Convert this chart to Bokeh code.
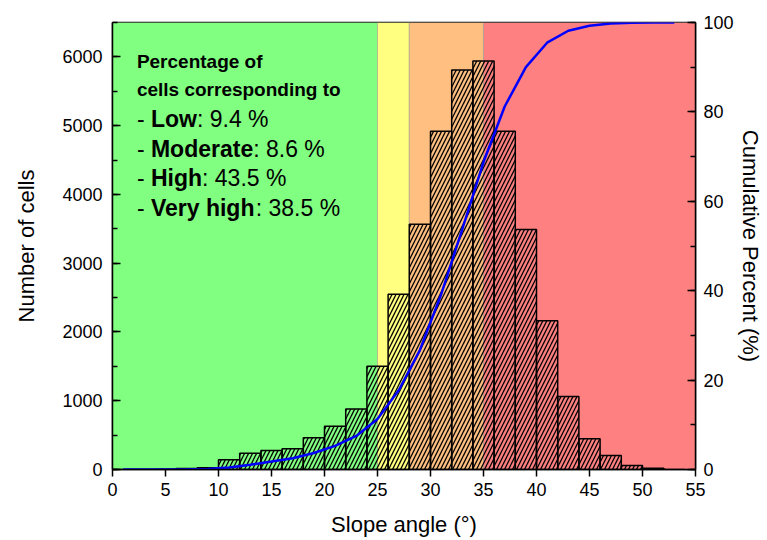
from bokeh.plotting import figure
from bokeh.models import (Range1d, LinearAxis, SingleIntervalTicker, Label)
from bokeh.embed import file_html
from bokeh.resources import INLINE

# ---- data ----
bin_left = [0, 2, 4, 6, 8, 10, 12, 14, 16, 18, 20, 22, 24, 26, 28, 30, 32, 34, 36, 38, 40, 42, 44, 46, 48, 50, 52]
bin_right = [2, 4, 6, 8, 10, 12, 14, 16, 18, 20, 22, 24, 26, 28, 30, 32, 34, 36, 38, 40, 42, 44, 46, 48, 50, 52, 54]
counts = [0, 0, 5, 15, 25, 141, 237, 277, 301, 461, 630, 878, 1500, 2547, 3566, 4920,
          5808, 5939, 4920, 3489, 2164, 1062, 447, 204, 58, 18, 0]

cum_x = [1, 3, 5, 7, 9, 11, 13, 15, 17, 19, 21, 23, 25, 27, 29, 31, 33, 35, 37, 39, 41, 43, 45, 47, 49, 51, 53]
cum_pct = [0, 0, 0.01, 0.05, 0.11, 0.47, 1.07, 1.77, 2.53, 3.69, 5.28, 7.50, 11.28, 17.71, 26.72,
           39.14, 53.80, 68.79, 81.21, 90.02, 95.48, 98.16, 99.29, 99.80, 99.95, 100, 100]

band_left = [0, 25, 28, 35]
band_right = [25, 28, 35, 55]
band_colors = ["#80FF80", "#FFFF80", "#FFBF80", "#FF8080"]

classes = ["Low", "Moderate", "High", "Very high"]
class_pct = ["9.4", "8.6", "43.5", "38.5"]

FONT = "Liberation Sans"

p = figure(width=767, height=540, output_backend="svg", toolbar_location=None,
           x_range=Range1d(0, 55), y_range=Range1d(0, 6500),
           min_border_left=112, min_border_right=72, min_border_top=22, min_border_bottom=71,
           background_fill_color="white", border_fill_color="white")
p.extra_y_ranges = {"cum": Range1d(0, 100)}
p.xgrid.visible = False
p.ygrid.visible = False
p.outline_line_color = "black"
p.outline_line_width = 1.5

# background bands
p.quad(left=band_left, right=band_right, bottom=0, top=6500, fill_color=band_colors,
       line_color="#a0a090", line_alpha=0.6, line_width=1)

# histogram bars (hatched, no fill)
p.quad(left=bin_left, right=bin_right, bottom=0, top=counts, fill_alpha=0,
       line_color="black", line_width=1.5, hatch_pattern="/", hatch_color="black",
       hatch_scale=8, hatch_weight=1.3)

# cumulative line
p.line(cum_x, cum_pct, y_range_name="cum", line_color="#0000FF", line_width=2.5)

# axes styling
def style_axis(ax, label):
    ax.axis_label = label
    ax.axis_label_text_font = FONT
    ax.axis_label_text_font_size = "22px"
    ax.axis_label_text_font_style = "normal"
    ax.axis_label_text_color = "black"
    ax.major_label_text_font = FONT
    ax.major_label_text_font_size = "18px"
    ax.major_label_text_color = "black"
    ax.axis_line_color = "black"
    ax.axis_line_width = 1.5
    ax.major_tick_line_color = "black"
    ax.major_tick_line_width = 1.5
    ax.minor_tick_line_color = "black"
    ax.minor_tick_line_width = 1.5

xa = p.xaxis[0]
xa.ticker = SingleIntervalTicker(interval=5, num_minor_ticks=0)
style_axis(xa, "Slope angle (°)")
xa.major_tick_out = 7
xa.major_tick_in = 0
xa.major_label_standoff = 6
xa.axis_label_standoff = 13

ya = p.yaxis[0]
ya.ticker = SingleIntervalTicker(interval=1000, num_minor_ticks=2)
style_axis(ya, "Number of cells")
ya.major_tick_out = 0
ya.major_tick_in = 8
ya.minor_tick_out = 0
ya.minor_tick_in = 5
ya.major_label_standoff = 10
ya.axis_label_standoff = 20

ra = LinearAxis(y_range_name="cum", ticker=SingleIntervalTicker(interval=20, num_minor_ticks=2))
style_axis(ra, "Cumulative Percent (%)")
ra.major_tick_out = 0
ra.major_tick_in = 8
ra.minor_tick_out = 0
ra.minor_tick_in = 5
ra.major_label_standoff = 8
ra.axis_label_standoff = 1
p.add_layout(ra, "right")

# annotation text
x0 = 2.3
def lbl(text, y, xoff=0, size="19px", style="bold"):
    p.add_layout(Label(x=x0, y=y, x_offset=xoff, text=text, text_font=FONT,
                       text_font_size=size, text_font_style=style, text_color="black",
                       text_baseline="alphabetic", text_align="left"))

lbl("Percentage of", 5930)
lbl("cells corresponding to", 5520)

# widths in em units (Arial/Liberation metrics) for composing mixed-weight lines
reg_w = {"-": 0.333, " ": 0.278}
bold_w = {"L": 0.611, "o": 0.611, "w": 0.778, "M": 0.833, "d": 0.611, "e": 0.556,
          "r": 0.389, "a": 0.556, "t": 0.333, "H": 0.722, "i": 0.278, "g": 0.611,
          "h": 0.611, "V": 0.667, "y": 0.556, " ": 0.278}
fs = 23
line_y = [5100, 4660, 4240, 3800]
for name, pct, y in zip(classes, class_pct, line_y):
    dash_w = (reg_w["-"] + reg_w[" "]) * fs
    name_w = sum(bold_w[c] for c in name) * fs
    lbl("- ", y, 0, f"{fs}px", "normal")
    lbl(name, y, dash_w, f"{fs}px", "bold")
    lbl(f": {pct} %", y, dash_w + name_w, f"{fs}px", "normal")

open("out.html", "w").write(file_html(p, INLINE))
